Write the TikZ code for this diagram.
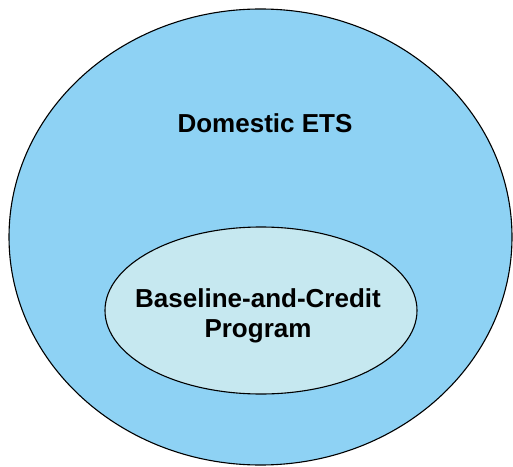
\documentclass[tikz,border=0pt]{standalone}
\usepackage{fontspec}
\setmainfont{Liberation Sans}
\usepackage{tikz}
\usetikzlibrary{shapes.geometric}
\definecolor{sky}{HTML}{8ED2F4}
\definecolor{pale}{HTML}{C6E8F0}
\tikzset{zone/.style={ellipse,draw=black,line width=1.1pt,inner sep=0pt},label/.style={font=\fontsize{26}{30}\selectfont\bfseries,align=center,inner sep=0pt}}
\begin{document}
\begin{tikzpicture}[x=1pt,y=1pt]
\useasboundingbox (0,0) rectangle (513,466);
\node[zone,fill=sky,minimum width=503pt,minimum height=456pt] (ets) at (260.5,229) {};
\node[zone,fill=pale,minimum width=312pt,minimum height=167pt] (bcp) at (261,155.5) {};
\node[label,anchor=base] (etstext) at (265,333) {Domestic ETS};
\node[label] (bcptext) at (258,150) {Baseline-and-Credit\\Program};
\end{tikzpicture}
\end{document}
